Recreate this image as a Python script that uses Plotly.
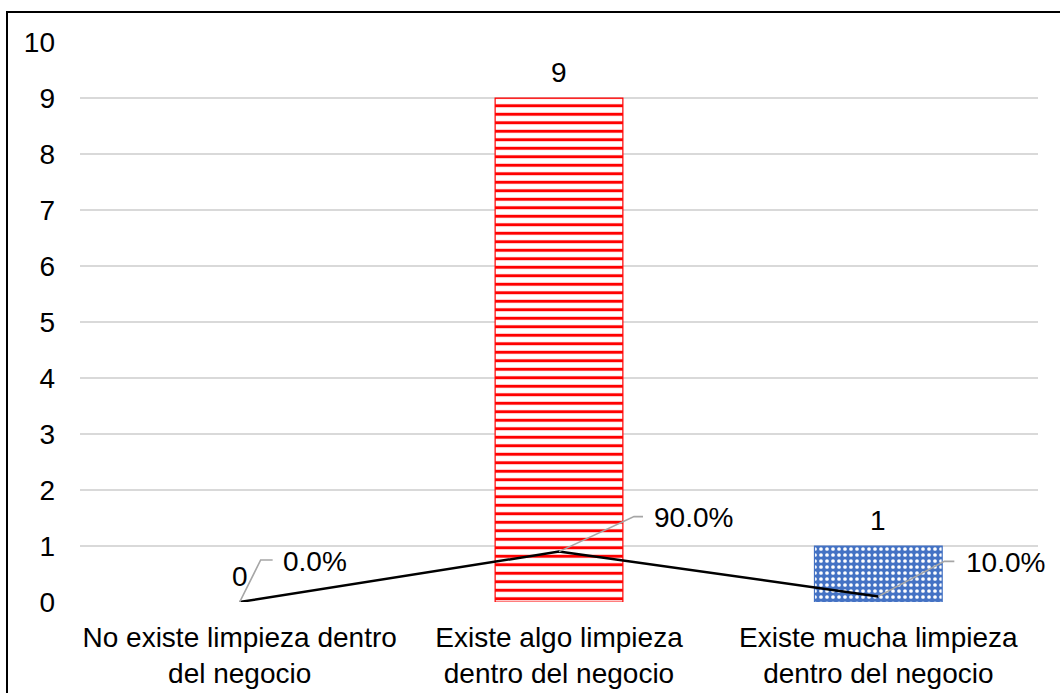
import plotly.graph_objects as go

# Survey responses about cleanliness in the business
categories = ["No existe limpieza dentro<br>del negocio",
              "Existe algo limpieza<br>dentro del negocio",
              "Existe mucha limpieza<br>dentro del negocio"]
counts = [0, 9, 1]
shares = [0.0, 0.9, 0.1]
y_ticks = list(range(0, 11))

FONT = "Liberation Sans, Arial, sans-serif"
FS = 28
W, H = 1060, 693
ML, MR, MT, MB = 80, 22, 42, 91

# Fill style per category bar
bar_styles = [
    dict(shape="-", fg="#FF0000", bg="#FFFFFF", size=8.5, solidity=0.35, line="rgba(0,0,0,0)", lw=0),
    dict(shape="-", fg="#FF0000", bg="#FFFFFF", size=8.5, solidity=0.35, line="#FF0000", lw=1.2),
    dict(shape=".", fg="#FFFFFF", bg="#4472C4", size=6, solidity=0.3, line="#4472C4", lw=1.2),
]

fig = go.Figure()

for c, v, st in zip(categories, counts, bar_styles):
    fig.add_trace(go.Bar(
        x=[c], y=[v], width=0.4,
        marker=dict(
            color=st["bg"],
            pattern=dict(shape=st["shape"], fgcolor=st["fg"], bgcolor=st["bg"],
                         size=st["size"], solidity=st["solidity"], fillmode="replace"),
            line=dict(color=st["line"], width=st["lw"]),
        ),
        showlegend=False, hoverinfo="skip",
    ))

# Share line drawn on the same value axis
fig.add_trace(go.Scatter(
    x=categories, y=shares, mode="lines",
    line=dict(color="#000000", width=2.5),
    showlegend=False, hoverinfo="skip",
))

annotations = []
shapes = []

# Count labels above each bar
for c, v in zip(categories, counts):
    annotations.append(dict(
        x=c, y=v, xref="x", yref="y", text=str(v), showarrow=False,
        yanchor="middle", yshift=26, font=dict(family=FONT, size=FS, color="#000000"),
    ))

# Percentage labels with elbow leader lines (pixel offsets from each point)
leader_offsets = [(21, 42, 33), (75, 35, 84), (66, 35, 76)]
text_offsets = [(41, 41), (93, 34), (86, 34)]
for c, s, (dx, dy, hx), (tx, ty) in zip(categories, shares, leader_offsets, text_offsets):
    shapes.append(dict(
        type="path", xref="x", yref="y", xsizemode="pixel", ysizemode="pixel",
        xanchor=c, yanchor=s,
        path=f"M0,0 L{dx},{dy} L{hx},{dy}",
        line=dict(color="#A6A6A6", width=1.6),
    ))
    annotations.append(dict(
        x=c, y=s, xref="x", yref="y", text=f"{s * 100:.1f}%", showarrow=False,
        xanchor="left", yanchor="middle", xshift=tx, yshift=ty,
        font=dict(family=FONT, size=FS, color="#000000"),
    ))

# Outer frame (left and top edges)
pw, ph = W - ML - MR, H - MT - MB
fx = (7 - ML) / pw
fy_top = (H - MB - 12) / ph
fy_bot = (H - MB - 720) / ph
shapes.append(dict(
    type="path", xref="paper", yref="paper",
    path=f"M{fx},{fy_bot} L{fx},{fy_top} L1.2,{fy_top}",
    line=dict(color="#000000", width=2),
))

fig.update_layout(
    width=W, height=H,
    margin=dict(l=ML, r=MR, t=MT, b=MB, autoexpand=False),
    paper_bgcolor="#FFFFFF", plot_bgcolor="#FFFFFF",
    font=dict(family=FONT, size=FS, color="#000000"),
    annotations=annotations, shapes=shapes,
    barmode="overlay",
    xaxis=dict(range=[-0.5, len(categories) - 0.5], showgrid=False, showline=False,
               zeroline=False, ticks="", automargin=False, ticklabelstandoff=16,
               tickfont=dict(family=FONT, size=FS)),
    yaxis=dict(range=[0, 10], tickvals=y_ticks, showgrid=True,
               gridcolor="#D9D9D9", gridwidth=1.5, zeroline=False, showline=False,
               automargin=False, ticks="", ticklabelstandoff=24,
               tickfont=dict(family=FONT, size=FS)),
)

fig.write_html("out.html")
